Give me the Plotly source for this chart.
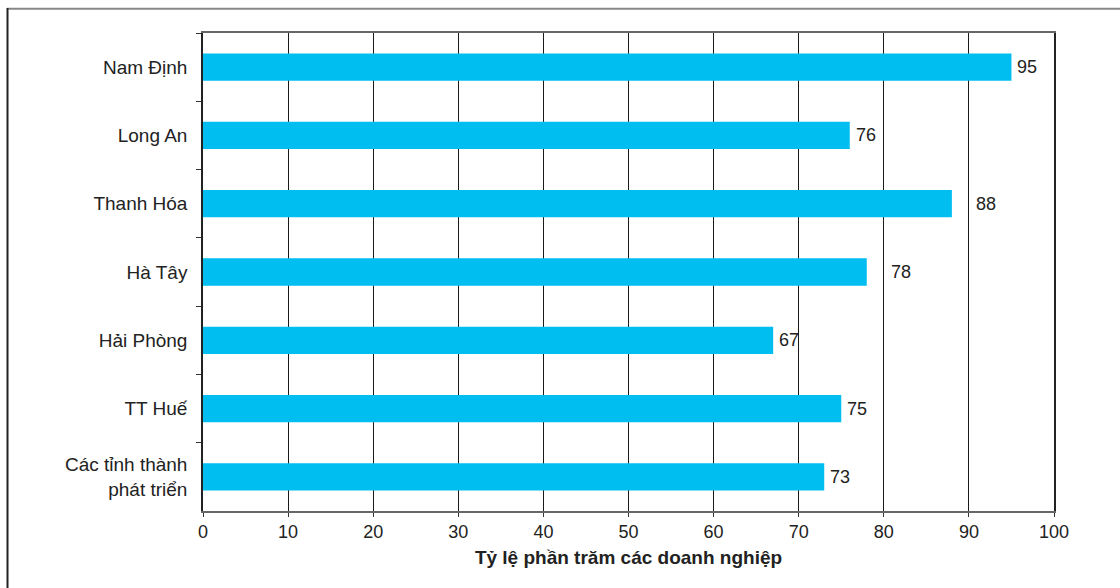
import plotly.graph_objects as go

# Provinces and the share of enterprises (%)
provinces = ["Nam Định", "Long An", "Thanh Hóa", "Hà Tây", "Hải Phòng", "TT Huế",
             "Các tỉnh thành<br>phát triển"]
shares = [95, 76, 88, 78, 67, 75, 73]
x_ticks = [0, 10, 20, 30, 40, 50, 60, 70, 80, 90, 100]
x_title = "Tỷ lệ phần trăm các doanh nghiệp"

W, H = 1120, 588
L, R, T, B = 203, 66, 33, 77
PW, PH = W - L - R, H - T - B

FONT = "Liberation Sans, Arial, sans-serif"
BAR = "#00BFF0"


def px_x(px):
    return (px - L) / PW


def px_y(py):
    return (H - B - py) / PH


fig = go.Figure(go.Bar(
    y=provinces, x=shares, orientation="h",
    marker=dict(color=BAR, line=dict(width=0)),
    width=0.4, hoverinfo="skip",
))

# value labels next to each bar; a label that would sit on a gridline
# is moved just past that gridline
px_per_unit = PW / 100.0
label_gap, label_w = 4, 20
for p, v in zip(provinces, shares):
    end_val = v + (label_gap + label_w) / px_per_unit
    anchor, shift = v, label_gap
    for g in x_ticks:
        if v < g < end_val:
            anchor, shift = g, 5
    fig.add_annotation(x=anchor, y=p, text=str(v), showarrow=False,
                       xanchor="left", xshift=shift,
                       font=dict(family=FONT, size=18, color="#222"))

# outer frame (top and left edges)
fig.add_shape(type="line", xref="paper", yref="paper",
              x0=px_x(7), x1=px_x(1125), y0=px_y(8.8), y1=px_y(8.8),
              line=dict(color="#888", width=2))
fig.add_shape(type="line", xref="paper", yref="paper",
              x0=px_x(7.5), x1=px_x(7.5), y0=px_y(8), y1=px_y(600),
              line=dict(color="#222", width=2))

fig.update_layout(
    width=W, height=H,
    margin=dict(l=L, r=R, t=T, b=B, pad=0),
    paper_bgcolor="white", plot_bgcolor="white",
    showlegend=False,
    font=dict(family=FONT, size=18, color="#222"),
    xaxis=dict(
        range=[0, 100], tickvals=x_ticks,
        showgrid=True, gridcolor="#1a1a1a", gridwidth=1.2,
        zeroline=False,
        showline=True, linecolor="#666", linewidth=1.5, mirror=True,
        ticks="outside", ticklen=4, tickcolor="#333", tickwidth=1.2,
        tickfont=dict(family=FONT, size=18, color="#222"),
        title=dict(text="<b>" + x_title + "</b>", standoff=9,
                   font=dict(family=FONT, size=19, color="#222")),
        fixedrange=True,
    ),
    yaxis=dict(
        type="category", categoryorder="array", categoryarray=provinces,
        autorange="reversed",
        showgrid=False, zeroline=False,
        showline=True, linecolor="#222", linewidth=1.5, mirror=True,
        ticks="outside", tickson="boundaries", ticklen=5,
        tickcolor="#333", tickwidth=1.2,
        ticklabelstandoff=10,
        tickfont=dict(family=FONT, size=19, color="#222"),
        fixedrange=True,
    ),
)

fig.write_html("out.html")
